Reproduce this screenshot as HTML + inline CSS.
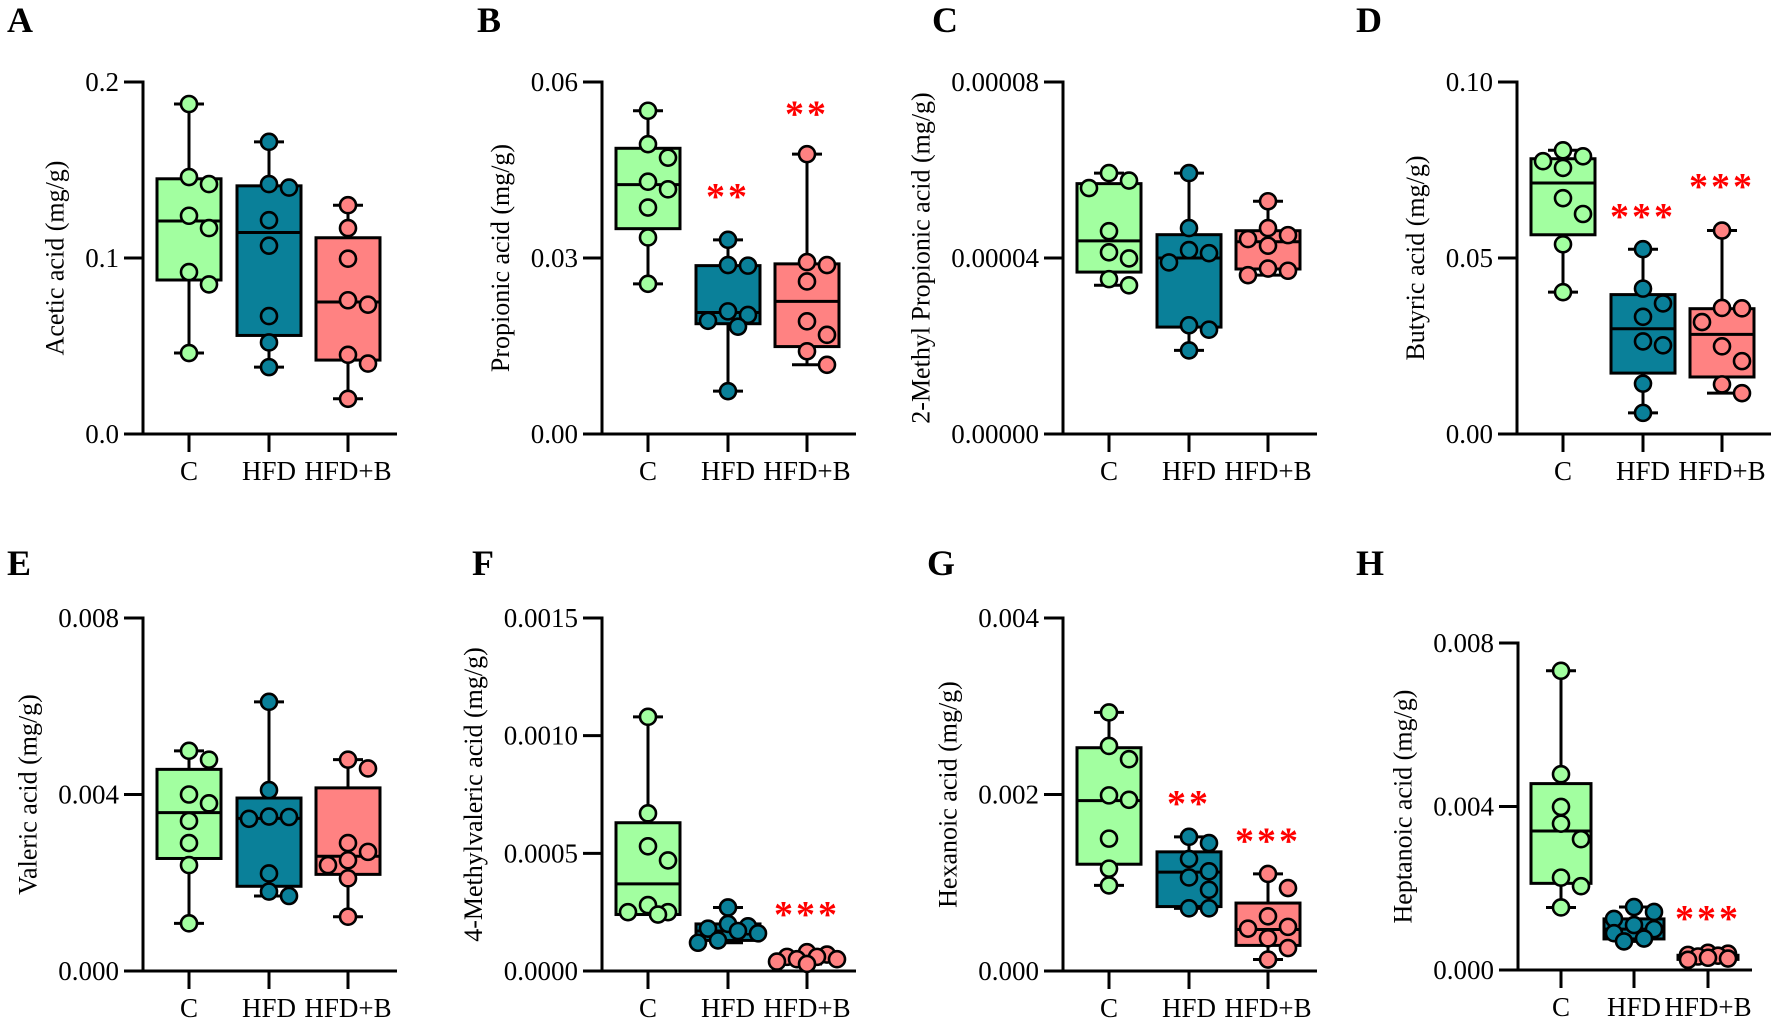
<!DOCTYPE html>
<html><head><meta charset="utf-8"><style>
html,body{margin:0;padding:0;background:#fff;}
svg, svg text{font-family:"Liberation Serif","Times New Roman",serif !important;}
</style></head><body>
<svg id="chart" width="1772" height="1023" viewBox="0 0 1772 1023" xmlns="http://www.w3.org/2000/svg" font-family="Liberation Serif, serif"></svg>
<script>
const groups = ["C","HFD","HFD+B"];
const groupColors = ["#a2ffa0","#0a8099","#ff8282"];

// ---- Panel A: Acetic acid ----
const aTicks = ["0.0","0.1","0.2"];
const aPoints = [[0.1875,0.146,0.142,0.124,0.117,0.092,0.085,0.046],[0.166,0.142,0.140,0.1215,0.107,0.067,0.052,0.038],[0.130,0.117,0.0996,0.076,0.0735,0.045,0.040,0.020]];
const aBoxes = [[0.046,0.0875,0.121,0.145,0.1875],[0.038,0.056,0.1145,0.141,0.166],[0.020,0.042,0.075,0.1115,0.130]];
const aStars = [null,null,null];
// ---- Panel B: Propionic acid ----
const bTicks = ["0.00","0.03","0.06"];
const bPoints = [[0.0551,0.0494,0.0471,0.043,0.0417,0.0386,0.0335,0.0256],[0.0331,0.0288,0.0287,0.0209,0.0203,0.0193,0.0183,0.0073],[0.0477,0.0293,0.0288,0.026,0.0192,0.0169,0.0141,0.0118]];
const bBoxes = [[0.0256,0.035,0.0425,0.0487,0.0551],[0.0073,0.0188,0.0207,0.0287,0.0331],[0.0118,0.0149,0.0226,0.029,0.0477]];
const bStars = [null,["**",0.0411],["**",0.0551]];
// ---- Panel C: 2-Methyl Propionic acid ----
const cTicks = ["0.00000","0.00004","0.00008"];
const cPoints = [[5.93e-5,5.76e-5,5.59e-5,4.61e-5,4.13e-5,3.99e-5,3.52e-5,3.38e-5],[5.93e-5,4.68e-5,4.18e-5,4.11e-5,3.90e-5,2.47e-5,2.37e-5,1.90e-5],[5.29e-5,4.68e-5,4.52e-5,4.43e-5,4.28e-5,3.76e-5,3.71e-5,3.61e-5]];
const cBoxes = [[3.38e-5,3.68e-5,4.39e-5,5.69e-5,5.93e-5],[1.90e-5,2.43e-5,4.0e-5,4.53e-5,5.93e-5],[3.61e-5,3.75e-5,4.37e-5,4.62e-5,5.29e-5]];
const cStars = [null,null,null];
// ---- Panel D: Butyric acid ----
const dTicks = ["0.00","0.05","0.10"];
const dPoints = [[0.0806,0.0789,0.0775,0.0756,0.067,0.0625,0.0539,0.0403],[0.0525,0.0413,0.0371,0.0333,0.0263,0.0252,0.0143,0.006],[0.0578,0.0358,0.0357,0.0318,0.0249,0.0207,0.0141,0.0116]];
const dBoxes = [[0.0403,0.0566,0.0713,0.0782,0.0806],[0.006,0.0173,0.0299,0.0396,0.0525],[0.0116,0.0162,0.0283,0.0356,0.0578]];
const dStars = [null,["***",0.0628],["***",0.0713]];
// ---- Panel E: Valeric acid ----
const eTicks = ["0.000","0.004","0.008"];
const ePoints = [[0.00499,0.00479,0.0040,0.0038,0.0034,0.0029,0.0024,0.00108],[0.0061,0.0041,0.0035,0.00349,0.00345,0.00221,0.0018,0.0017],[0.00479,0.00459,0.0029,0.0027,0.00251,0.0024,0.0021,0.00123]];
const eBoxes = [[0.00108,0.00255,0.00359,0.00457,0.00499],[0.0017,0.00192,0.00346,0.00392,0.0061],[0.00123,0.00219,0.0026,0.00415,0.00479]];
const eStars = [null,null,null];
// ---- Panel F: 4-Methylvaleric acid ----
const fTicks = ["0.0000","0.0005","0.0010","0.0015"];
const fPoints = [[0.00108,0.00067,0.00053,0.00047,0.00028,0.00025,0.00025,0.00024],[0.00027,0.0002,0.00019,0.00018,0.00017,0.00016,0.00013,0.00012],[0.00008,0.00007,0.00006,0.00006,0.00005,0.00005,0.00004,0.00003]];
const fBoxes = [[0.00024,0.00024,0.00037,0.00063,0.00108],[0.00012,0.00013,0.00017,0.0002,0.00027],[0.00003,0.000045,0.000055,0.00007,0.00008]];
const fStars = [null,null,["***",0.000255]];
// ---- Panel G: Hexanoic acid ----
const gTicks = ["0.000","0.002","0.004"];
const gPoints = [[0.00293,0.00255,0.0024,0.00199,0.00194,0.0015,0.00116,0.00097],[0.00152,0.00145,0.00127,0.00113,0.00106,0.00092,0.00071,0.00071],[0.0011,0.00094,0.00062,0.0005,0.00048,0.00037,0.00026,0.00013]];
const gBoxes = [[0.00097,0.00121,0.00193,0.00253,0.00293],[0.00071,0.00073,0.00112,0.00135,0.00152],[0.00013,0.00029,0.00047,0.00077,0.0011]];
const gStars = [null,["**",0.00194],["***",0.00151]];
// ---- Panel H: Heptanoic acid ----
const hTicks = ["0.000","0.004","0.008"];
const hPoints = [[0.00732,0.00479,0.00399,0.00358,0.0032,0.00226,0.00205,0.00153],[0.00154,0.00142,0.00125,0.0011,0.001,0.0009,0.00077,0.0007],[0.00042,0.0004,0.00037,0.00035,0.00033,0.0003,0.00028,0.00025]];
const hBoxes = [[0.00153,0.00212,0.0034,0.00456,0.00732],[0.0007,0.00076,0.001,0.00125,0.00154],[0.00025,0.00026,0.0003,0.00036,0.00042]];
const hStars = [null,null,["***",0.00135]];

const NS = "http://www.w3.org/2000/svg";
const FONT = "Liberation Serif, Times New Roman, serif";
const svg = document.getElementById("chart");
function el(tag, attrs, parent){ const e=document.createElementNS(NS,tag); for(const k in attrs) e.setAttribute(k,attrs[k]); if(tag==="text") e.setAttribute("font-family",FONT); (parent||svg).appendChild(e); return e; }

const panels = [
 {id:"a",L:"A",lx:7,ly:32,ax:143,top:82,bot:434,off:[46,126,205],end:254,bw:64,title:"Acetic acid (mg/g)",ticks:aTicks,pts:aPoints,box:aBoxes,stars:aStars},
 {id:"b",L:"B",lx:477,ly:32,ax:602,top:82,bot:434,off:[46,126,205],end:254,bw:64,title:"Propionic acid (mg/g)",ticks:bTicks,pts:bPoints,box:bBoxes,stars:bStars},
 {id:"c",L:"C",lx:932,ly:32,ax:1063,top:82,bot:434,off:[46,126,205],end:254,bw:64,title:"2-Methyl Propionic acid (mg/g)",ticks:cTicks,pts:cPoints,box:cBoxes,stars:cStars},
 {id:"d",L:"D",lx:1356,ly:32,ax:1517,top:82,bot:434,off:[46,126,205],end:254,bw:64,title:"Butyric acid (mg/g)",ticks:dTicks,pts:dPoints,box:dBoxes,stars:dStars},
 {id:"e",L:"E",lx:7,ly:575,ax:143,top:618,bot:971,off:[46,126,205],end:254,bw:64,title:"Valeric acid (mg/g)",ticks:eTicks,pts:ePoints,box:eBoxes,stars:eStars},
 {id:"f",L:"F",lx:472,ly:575,ax:602,top:618,bot:971,off:[46,126,205],end:254,bw:64,title:"4-Methylvaleric acid (mg/g)",ticks:fTicks,pts:fPoints,box:fBoxes,stars:fStars},
 {id:"g",L:"G",lx:927,ly:575,ax:1063,top:618,bot:971,off:[46,126,205],end:254,bw:64,title:"Hexanoic acid (mg/g)",ticks:gTicks,pts:gPoints,box:gBoxes,stars:gStars},
 {id:"h",L:"H",lx:1356,ly:575,ax:1518,top:643,bot:970,off:[43,116,190],end:234,bw:60,title:"Heptanoic acid (mg/g)",ticks:hTicks,pts:hPoints,box:hBoxes,stars:hStars}
];

panels.forEach(p=>{
  const g = el("g",{});
  
  
  const maxV = parseFloat(p.ticks[p.ticks.length-1]);
  const y = v => p.bot - v/maxV*(p.bot-p.top);
  const xc = i => p.ax + p.off[i];

  const lt = el("text",{x:p.lx,y:p.ly,"font-size":36,"font-weight":"bold",fill:"#000"},g);
  lt.textContent = p.L;
  
  

  const ya = el("line",{x1:p.ax,y1:p.top-1.5,x2:p.ax,y2:p.bot,stroke:"#000","stroke-width":3},g);
  
  
  let minLeft = p.ax;
  p.ticks.forEach(t=>{
    const v = parseFloat(t), ty = y(v);
    el("line",{x1:p.ax-19,y1:ty,x2:p.ax,y2:ty,stroke:"#000","stroke-width":3},g);
    const tl = el("text",{x:p.ax-24,y:ty+9,"font-size":27,"text-anchor":"end",fill:"#000"},g);
    tl.textContent = t;
    
    
    const w = tl.getComputedTextLength();
    minLeft = Math.min(minLeft, p.ax-24-w);
  });
  const mid = (p.top+p.bot)/2;
  const tx = minLeft - 22;
  const tt = el("text",{x:tx,y:mid,"font-size":26,"text-anchor":"middle",fill:"#000",transform:`rotate(-90 ${tx} ${mid})`},g);
  tt.textContent = p.title;
  
  

  const xa = el("line",{x1:p.ax-1.5,y1:p.bot,x2:p.ax+p.end,y2:p.bot,stroke:"#000","stroke-width":3},g);
  
  
  groups.forEach((gn,i)=>{
    el("line",{x1:xc(i),y1:p.bot,x2:xc(i),y2:p.bot+18,stroke:"#000","stroke-width":3},g);
    const xl = el("text",{x:xc(i),y:p.bot+46,"font-size":27,"text-anchor":"middle",fill:"#000"},g);
    xl.textContent = gn;
    
    
  });

  groups.forEach((gn,i)=>{
    const b = p.box[i], cx = xc(i), hw = p.bw/2, cap = 15;
    const bg = el("g",{},g);
    
    
    el("line",{x1:cx,y1:y(b[4]),x2:cx,y2:y(b[0]),stroke:"#000","stroke-width":3},bg);
    el("line",{x1:cx-cap,y1:y(b[4]),x2:cx+cap,y2:y(b[4]),stroke:"#000","stroke-width":3},bg);
    el("line",{x1:cx-cap,y1:y(b[0]),x2:cx+cap,y2:y(b[0]),stroke:"#000","stroke-width":3},bg);
    el("rect",{x:cx-hw,y:y(b[3]),width:p.bw,height:Math.max(1,y(b[1])-y(b[3])),fill:groupColors[i],stroke:"#000","stroke-width":3},bg);
    el("line",{x1:cx-hw,y1:y(b[2]),x2:cx+hw,y2:y(b[2]),stroke:"#000","stroke-width":3},bg);

    // points: constrained beeswarm within box width
    const r = 8, placed = [];
    const lim = hw - 2;
    const cands = [0, 20, -20, 10, -10, 30, -30].filter(c=>Math.abs(c)<=lim);
    const vals = p.pts[i].slice().sort((a,c)=>c-a);
    vals.forEach(v=>{
      const py = y(v);
      let best = 0, bestD = -1;
      for(const c of cands){
        const d = placed.length ? Math.min(...placed.map(q=>Math.hypot(q[0]-c,q[1]-py))) : 1e9;
        if(d >= 2*r){ best=c; bestD=d; break; }
        if(d > bestD){ bestD=d; best=c; }
      }
      placed.push([best,py]);
      const pt = el("circle",{cx:cx+best,cy:py,r:r,fill:groupColors[i],stroke:"#000","stroke-width":2.6},bg);
      
      
    });

    const s = p.stars[i];
    if(s){
      const st = el("text",{x:cx,y:y(s[1])+16,"font-size":38,"font-weight":"bold","text-anchor":"middle",fill:"#ff0000","letter-spacing":"3"},g);
      st.textContent = s[0];
      
      
    }
  });
});
</script>
</body></html>
